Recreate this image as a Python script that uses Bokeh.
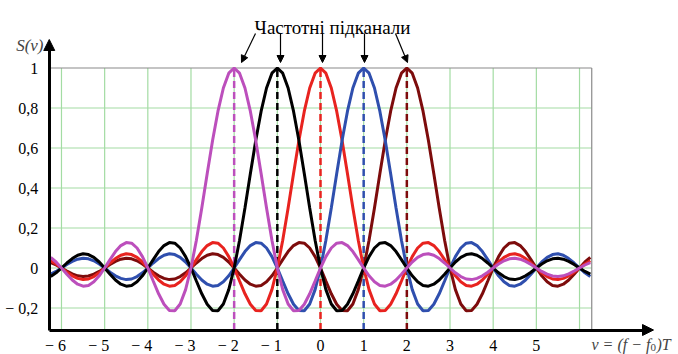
import numpy as np
from bokeh.plotting import figure
from bokeh.models import (Range1d, FixedTicker, Arrow, NormalHead,
                          Label, LinearAxis)
from bokeh.embed import file_html
from bokeh.resources import INLINE

# ---- data ----
# one sub-channel spectrum S at offsets 0, 0.125, 0.25, ... 9 from its centre (symmetric)
shape_step = 0.125
shape_half = [1.000, 0.974, 0.900, 0.784, 0.637, 0.471, 0.300, 0.139,
              0.000, -0.108, -0.180, -0.214, -0.212, -0.181, -0.129, -0.065,
              0.000, 0.057, 0.100, 0.124, 0.127, 0.112, 0.082, 0.042,
              0.000, -0.039, -0.069, -0.087, -0.091, -0.081, -0.060, -0.031,
              0.000, 0.030, 0.053, 0.067, 0.071, 0.064, 0.047, 0.025,
              0.000, -0.024, -0.043, -0.055, -0.058, -0.052, -0.039, -0.021,
              0.000, 0.020, 0.036, 0.046, 0.049, 0.044, 0.033, 0.018,
              0.000, -0.017, -0.031, -0.040, -0.042, -0.039, -0.029, -0.015,
              0.000, 0.015, 0.027, 0.035, 0.037, 0.034, 0.026, 0.014,
              0.000]
centers = [-2, -1, 0, 1, 2]
colors = ["#bc4fbc", "#000000", "#e8231f", "#2f4fae", "#7d0c0c"]
draw_order = [4, 2, 3, 1, 0]
x_ticks = [-6, -5, -4, -3, -2, -1, 0, 1, 2, 3, 4, 5]
x_tick_labels = ["− 6", "− 5", "− 4", "− 3", "− 2", "− 1", "0", "1", "2", "3", "4", "5"]
y_ticks = [-0.2, 0, 0.2, 0.4, 0.6, 0.8, 1]
y_tick_labels = ["− 0,2", "0", "0,2", "0,4", "0,6", "0,8", "1"]
grid_x = [-6, -5, -4, -3, -2, -1, 0, 1, 2, 3, 4, 5, 6]
grid_y = [-0.2, 0, 0.2, 0.4, 0.6, 0.8]
title_text = "Частотні підканали"
x_min, x_max = -6.283, 6.283
y_min, y_max = -0.31, 1.0

# ---- pixel helpers (canvas pixel -> data) ----
UX, X0 = 43.17, 320.0
UY, Y0 = 200.0, 267.5
def px(xp):
    return (xp - X0) / UX
def py(yp):
    return (Y0 - yp) / UY

W, H = 678, 354
p = figure(width=W, height=H, x_range=Range1d(px(0), px(W)),
           y_range=Range1d(py(H), py(0)), x_axis_type=None, y_axis_type=None,
           output_backend="svg", toolbar_location=None, min_border=0)
p.outline_line_color = None
p.background_fill_color = "white"
p.border_fill_color = "white"

FONT = "Liberation Serif"

# grid
p.segment(x0=grid_x, y0=[y_min] * len(grid_x), x1=grid_x, y1=[y_max] * len(grid_x),
          line_color="#a3dca3", line_width=1.2)
p.segment(x0=[x_min] * len(grid_y), y0=grid_y, x1=[x_max] * len(grid_y), y1=grid_y,
          line_color="#a3dca3", line_width=1.2)
# box border (top and right)
p.segment(x0=[x_min, x_max], y0=[y_max, y_min], x1=[x_max, x_max], y1=[y_max, y_max],
          line_color="#8a8a8a", line_width=1.2)

# dashed centre lines
p.segment(x0=centers, y0=[y_min] * len(centers), x1=centers, y1=[y_max] * len(centers),
          line_color=colors, line_width=2.5, line_dash="7 4")

# curves
half = np.array(shape_half)
shape = np.concatenate([half[:0:-1], half])
offs = (np.arange(len(shape)) - (len(half) - 1)) * shape_step
for i in draw_order:
    v = centers[i] + offs
    m = (v >= x_min - 1e-9) & (v <= x_max + 1e-9)
    p.line(v[m], shape[m], line_color=colors[i], line_width=3)

# axes (negative labels padded so the digit sits over its tick, minus hanging left)
xo = {}
for t, l in zip(x_ticks, x_tick_labels):
    lab = l + "\u2002\u00a0" if t < 0 else l
    xo[t] = lab
    xo[str(t)] = lab
yo = {}
for t, l in zip(y_ticks, y_tick_labels):
    yo[t] = l
    yo[str(t)] = l

xa = LinearAxis(fixed_location=y_min, ticker=FixedTicker(ticks=x_ticks),
                major_label_overrides=xo, bounds=(x_min, px(645)),
                axis_line_width=3, axis_line_color="black",
                major_tick_line_color=None, minor_tick_line_color=None,
                major_label_standoff=1, major_label_text_font=FONT,
                major_label_text_font_size="16px", major_label_text_color="black")
ya = LinearAxis(fixed_location=x_min, ticker=FixedTicker(ticks=y_ticks),
                major_label_overrides=yo, bounds=(y_min, py(47)),
                axis_line_width=3, axis_line_color="black",
                major_tick_line_color=None, minor_tick_line_color=None,
                major_label_standoff=5, major_label_text_font=FONT,
                major_label_text_font_size="16px", major_label_text_color="black")
p.add_layout(xa, "below")
p.add_layout(ya, "left")

# axis arrowheads
p.add_layout(Arrow(x_start=px(630), y_start=y_min, x_end=px(653), y_end=y_min,
                   line_color=None,
                   end=NormalHead(size=11, fill_color="black", line_color="black")))
p.add_layout(Arrow(x_start=x_min, y_start=py(70), x_end=x_min, y_end=py(39),
                   line_color=None,
                   end=NormalHead(size=11, fill_color="black", line_color="black")))

# title and pointer arrows
p.add_layout(Label(x=px(332), y=py(27), text=title_text, text_font=FONT,
                   text_font_size="19px", text_align="center",
                   text_baseline="alphabetic", text_color="black"))
arrow_px = [(255, 33, 241, 62), (280, 33, 280, 62), (322, 33, 322, 62),
            (364, 33, 364, 62), (395, 33, 407, 62)]
for (a, b, c, d) in arrow_px:
    p.add_layout(Arrow(x_start=px(a), y_start=py(b), x_end=px(c), y_end=py(d),
                       line_color="black", line_width=1.2,
                       end=NormalHead(size=7, fill_color="black", line_color="black",
                                      line_width=1)))

# axis titles
p.add_layout(Label(x=px(43), y=py(45), text="S(ν)", text_font=FONT,
                   text_font_style="italic", text_font_size="17px",
                   text_align="right", text_baseline="alphabetic"))
p.add_layout(Label(x=px(591), y=py(344), text="ν = (f − f", text_font=FONT,
                   text_font_style="italic", text_font_size="16px",
                   text_align="left", text_baseline="alphabetic"))
p.add_layout(Label(x=px(650), y=py(347), text="0", text_font=FONT,
                   text_font_size="11px", text_align="left",
                   text_baseline="alphabetic"))
p.add_layout(Label(x=px(656), y=py(344), text=")T", text_font=FONT,
                   text_font_style="italic", text_font_size="16px",
                   text_align="left", text_baseline="alphabetic"))

open("out.html", "w").write(file_html(p, INLINE))
